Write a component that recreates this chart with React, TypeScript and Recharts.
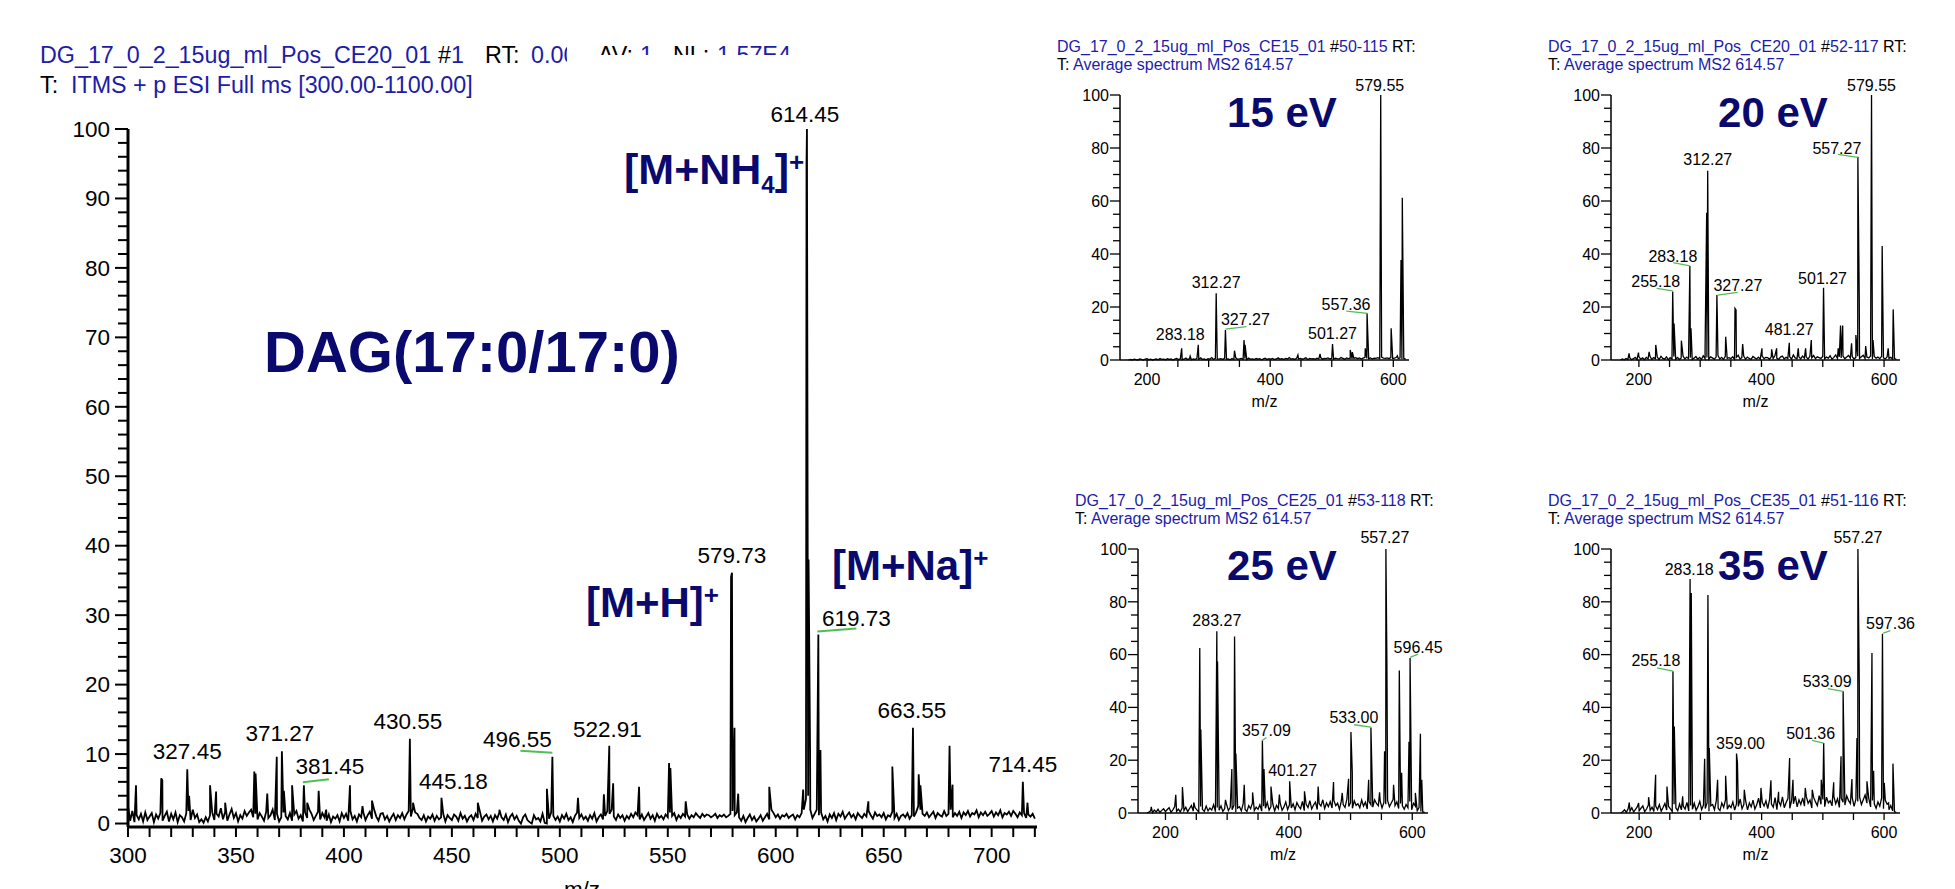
import { ComposedChart, Line, Scatter, XAxis, YAxis } from "recharts";

const FONT = "'Liberation Sans', Arial, Helvetica, sans-serif";
const NAVY = "#0a0a6e";
const BLUE = "#1c1ca8";
const GREEN = "#55bb55";

// ---------------- data ----------------
// baseline noise values are in tenths of a percent of the base peak

// main full-scan spectrum (m/z 300 - 720), noise sampled every 1 m/z
const mainNoiseStart = 300;
const mainNoiseStep = 1;
const mainNoise = [
  25, 4, 18, 2, 12, 6, 14, 3, 16, 5, 10, 15, 2, 13, 7, 15, 4, 11, 17, 3,
  14, 6, 16, 2, 12, 9, 3, 15, 18, 5, 20, 8, 13, 2, 6, 1, 9, 3, 12, 16,
  5, 14, 10, 22, 6, 17, 4, 13, 21, 8, 15, 3, 12, 7, 18, 11, 16, 20, 9, 14,
  6, 15, 10, 4, 17, 8, 12, 20, 5, 14, 3, 9, 16, 11, 6, 15, 4, 13, 18, 7,
  12, 3, 16, 8, 20, 14, 5, 11, 17, 6, 15, 9, 4, 13, 2, 10, 7, 12, 3, 15,
  8, 14, 4, 18, 6, 11, 3, 13, 9, 16, 5, 12, 17, 7, 20, 10, 4, 14, 15, 6,
  11, 3, 9, 14, 5, 12, 8, 15, 6, 13, 18, 10, 22, 16, 14, 8, 5, 12, 3, 10,
  7, 13, 4, 11, 6, 9, 14, 3, 12, 8, 5, 13, 10, 4, 15, 7, 11, 3, 9, 12,
  5, 14, 8, 17, 4, 10, 13, 6, 11, 3, 12, 7, 16, 9, 5, 13, 2, 10, 14, 6,
  11, 4, 0, 9, 13, 5, 2, 0, 12, 6, 8, 3, 14, 1, 0, 7, 16, 11, 5, 10,
  3, 12, 7, 14, 5, 9, 2, 11, 16, 8, 13, 6, 10, 4, 12, 7, 15, 3, 9, 13,
  6, 11, 18, 14, 20, 10, 5, 13, 8, 12, 4, 11, 7, 14, 9, 16, 12, 6, 13, 5,
  10, 15, 7, 12, 4, 14, 8, 11, 6, 13, 9, 16, 11, 15, 5, 12, 8, 14, 10, 13,
  7, 12, 9, 15, 11, 8, 14, 10, 13, 12, 9, 11, 14, 8, 12, 10, 13, 9, 11, 14,
  18, 12, 16, 9, 4, 11, 2, 8, 13, 5, 10, 3, 7, 12, 4, 9, 14, 6, 20, 15,
  9, 13, 7, 12, 10, 14, 8, 11, 13, 6, 12, 9, 15, 20, 35, 40, 20, 8, 14, 20,
  12, 16, 6, 11, 3, 13, 8, 15, 5, 14, 10, 17, 7, 12, 16, 9, 13, 6, 15, 11,
  8, 14, 10, 18, 12, 7, 16, 11, 13, 9, 15, 6, 12, 10, 17, 8, 14, 5, 11, 13,
  9, 15, 7, 12, 10, 16, 25, 20, 14, 11, 16, 9, 13, 17, 8, 15, 12, 10, 18, 11,
  14, 20, 9, 15, 11, 17, 8, 16, 12, 18, 10, 15, 13, 19, 9, 16, 12, 17, 11, 14,
  18, 10, 16, 12, 19, 9, 15, 13, 17, 11, 18, 14, 9, 16, 12, 15, 8, 13, 10, 14,
  7,
];
// unlabelled peaks [m/z, %]
const mainPeaks: [number, number][] = [
  [303.7, 5.5], [315.4, 6.5], [315.9, 6.2], [328.3, 4], [338, 5.5], [340.8, 4.6],
  [345, 3], [358.5, 7.5], [359.1, 7.2], [364.5, 4.3], [368.9, 9.6], [372.2, 4.7],
  [376, 5.5], [383, 3], [388.3, 4.7], [391.8, 2], [402.8, 5.5], [408.6, 2.5],
  [413, 3.3], [432, 3], [462, 3], [472, 2], [494, 5], [508.4, 3.7], [520.4, 4.2],
  [524.7, 5.8], [536.7, 5.3], [550.6, 8.7], [551.2, 8], [558.3, 3.2], [579.3, 35.5],
  [580.9, 13.8], [582.6, 4.3], [597, 5.3], [612.7, 4.9], [614.25, 95], [615.2, 38],
  [615.9, 10.6], [620.7, 10.6], [642.9, 3.2], [654, 8.2], [666.2, 7.1], [667, 5.5],
  [680.5, 11.2], [681.9, 5.6], [716.6, 3],
];
const mainLabelMz = [614.45, 579.73, 619.73, 663.55, 714.45, 327.45, 371.27, 381.45, 430.55, 445.18, 496.55, 522.91];
const mainLabelInt = [100, 36.1, 27.2, 13.8, 6.0, 7.8, 10.4, 5.5, 12.2, 3.7, 9.6, 11.2];
const mainXTicks = [
  300, 310, 320, 330, 340, 350, 360, 370, 380, 390, 400, 410, 420, 430, 440, 450, 460, 470, 480, 490,
  500, 510, 520, 530, 540, 550, 560, 570, 580, 590, 600, 610, 620, 630, 640, 650, 660, 670, 680, 690,
  700, 710, 720,
];
const mainYTicks = [
  0, 2, 4, 6, 8, 10, 12, 14, 16, 18, 20, 22, 24, 26, 28, 30, 32, 34, 36, 38, 40, 42, 44, 46, 48, 50,
  52, 54, 56, 58, 60, 62, 64, 66, 68, 70, 72, 74, 76, 78, 80, 82, 84, 86, 88, 90, 92, 94, 96, 98, 100,
];

// MS2 spectra, noise sampled every 3 m/z from 170
const ms2NoiseStart = 170;
const ms2NoiseStep = 3;
const ms2XTicks = [200, 250, 300, 350, 400, 450, 500, 550, 600];
const ms2YTicks = [0, 5, 10, 15, 20, 25, 30, 35, 40, 45, 50, 55, 60, 65, 70, 75, 80, 85, 90, 95, 100];

const noise15 = [
  0, 2, 0, 3, 1, 0, 4, 2, 0, 3,
  5, 1, 3, 0, 2, 4, 1, 6, 2, 3,
  1, 5, 2, 4, 0, 3, 6, 2, 4, 1,
  3, 7, 2, 5, 1, 4, 2, 6, 3, 8,
  2, 4, 1, 5, 3, 9, 2, 6, 4, 3,
  5, 2, 7, 3, 4, 1, 6, 2, 8, 3,
  4, 6, 2, 5, 1, 7, 3, 4, 2, 6,
  3, 5, 1, 4, 7, 2, 5, 3, 6, 2,
  4, 8, 3, 5, 2, 6, 4, 9, 3, 5,
  2, 7, 4, 6, 3, 5, 8, 2, 6, 4,
  5, 3, 7, 4, 9, 3, 6, 5, 8, 4,
  6, 3, 7, 5, 4, 9, 6, 3, 8, 5,
  7, 4, 6, 9, 5, 8, 4, 7, 10, 6,
  5, 8, 4, 7, 6, 9, 5, 11, 7, 6,
  8, 5, 9, 6, 7, 10, 5, 8, 4, 6,
  3,
];
const peaks15: [number, number][] = [
  [256.2, 4.4], [270, 1.5], [313.5, 7], [342, 3.5], [357.5, 7.5], [359.2, 5.7], [445, 1.9],
  [481, 2.3], [530, 3.8], [533.5, 3], [554.5, 4.4], [596.5, 12], [606.6, 1.6], [612.5, 37.7],
  [614.6, 61.2],
];
const labelMz15 = [579.55, 312.27, 327.27, 283.18, 557.36, 501.27];
const labelInt15 = [100, 25.2, 11.3, 5.7, 17.6, 6];

const noise20 = [
  0, 4, 1, 6, 2, 9, 1, 5, 10, 2,
  12, 3, 8, 1, 10, 4, 15, 2, 9, 5,
  11, 2, 14, 6, 3, 12, 1, 9, 4, 13,
  3, 10, 2, 8, 15, 4, 11, 5, 9, 2,
  7, 13, 3, 10, 2, 16, 5, 9, 3, 12,
  8, 3, 11, 17, 4, 10, 2, 14, 6, 9,
  5, 12, 3, 10, 18, 4, 9, 15, 3, 11,
  6, 2, 13, 8, 4, 11, 3, 16, 5, 10,
  9, 3, 12, 5, 17, 7, 2, 11, 15, 4,
  10, 6, 13, 3, 19, 8, 5, 12, 4, 15,
  7, 11, 4, 14, 8, 17, 5, 12, 9, 6,
  13, 4, 11, 7, 16, 3, 10, 19, 6, 12,
  8, 15, 5, 11, 17, 7, 13, 4, 10, 14,
  6, 12, 18, 5, 11, 8, 15, 4, 13, 7,
  11, 5, 14, 8, 4, 12, 6, 10, 3, 5,
  2,
];
const peaks20: [number, number][] = [
  [184, 2.5], [199.3, 2.8], [216.7, 3.1], [227.5, 5.7], [257.4, 13.8], [269.3, 7.3], [285, 12],
  [308, 4.4], [310.6, 55.6], [341.6, 8.8], [356.8, 19.5], [358.5, 18.9], [369.3, 6], [400.8, 4.4],
  [416.6, 4], [424.7, 4.4], [445.4, 6.5], [460, 4.4], [472, 4.4], [525.2, 4.4], [529, 13],
  [532.5, 13], [547, 6.3], [554, 9.4], [559.5, 23.5], [570, 5.3], [582, 7.5], [596.9, 43],
  [606.7, 4.4], [614.9, 19.1],
];
const labelMz20 = [579.55, 557.27, 312.27, 283.18, 255.18, 327.27, 501.27, 481.27];
const labelInt20 = [100, 76.7, 71.4, 35.5, 25.8, 24.5, 27.3, 7.5];

const noise25 = [
  0, 3, 8, 1, 11, 4, 14, 2, 10, 16,
  5, 13, 20, 3, 12, 24, 6, 15, 4, 19,
  9, 22, 5, 17, 28, 7, 20, 12, 4, 25,
  14, 6, 26, 8, 19, 11, 31, 5, 21, 10,
  27, 6, 17, 33, 9, 22, 12, 29, 4, 19,
  24, 8, 35, 13, 6, 28, 16, 38, 9, 22,
  14, 31, 7, 26, 18, 40, 11, 24, 34, 8,
  29, 17, 37, 10, 23, 42, 13, 31, 19, 35,
  12, 39, 25, 16, 44, 9, 33, 21, 47, 15,
  30, 41, 13, 36, 26, 50, 17, 38, 24, 43,
  19, 47, 28, 37, 14, 45, 32, 21, 52, 25,
  39, 18, 46, 29, 35, 20, 49, 26, 41, 15,
  43, 31, 22, 50, 36, 27, 45, 19, 40, 33,
  48, 24, 38, 52, 28, 42, 17, 36, 27, 14,
  32, 20, 44, 12, 37, 26, 9, 21, 6, 4,
  2,
];
const peaks25: [number, number][] = [
  [177, 2.3], [216.7, 6.9], [227.5, 9.8], [245.9, 4], [255.6, 62.5], [257.3, 31.6], [284.4, 57.4],
  [297.3, 5], [307.6, 16.7], [312, 66.9], [314.1, 22.5], [327.7, 10.7], [341.2, 7.8], [359.7, 16.7],
  [371, 10], [384.6, 7], [425.3, 8.2], [447.5, 10], [472.4, 11.7], [486.5, 7.6], [496.8, 13],
  [500.6, 30.7], [502.8, 15.2], [529.3, 12.6], [547, 7.8], [555.1, 23.4], [558.9, 56.8],
  [569.7, 10.7], [579, 54], [582.8, 15.2], [594.7, 27], [605, 7.6], [613.2, 30], [615.4, 12.6],
];
const labelMz25 = [557.27, 283.27, 596.45, 533.0, 357.09, 401.27];
const labelInt25 = [100, 68.8, 58.7, 32.4, 27.5, 12];

const noise35 = [
  0, 5, 12, 3, 16, 7, 20, 4, 14, 24,
  8, 18, 27, 5, 15, 30, 10, 22, 6, 26,
  13, 32, 7, 21, 36, 11, 25, 16, 5, 33,
  19, 9, 34, 12, 26, 15, 40, 8, 28, 14,
  37, 10, 24, 44, 13, 30, 17, 39, 7, 27,
  32, 12, 47, 18, 9, 38, 22, 50, 14, 29,
  20, 42, 11, 35, 25, 53, 16, 33, 45, 12,
  38, 23, 49, 15, 31, 56, 19, 41, 26, 46,
  17, 52, 34, 22, 58, 13, 44, 28, 61, 20,
  40, 55, 18, 48, 35, 64, 23, 50, 32, 57,
  26, 62, 37, 49, 19, 59, 42, 28, 66, 33,
  51, 24, 60, 38, 46, 27, 63, 35, 54, 21,
  56, 41, 30, 65, 47, 36, 58, 25, 52, 44,
  61, 32, 50, 68, 37, 55, 23, 47, 35, 18,
  42, 26, 57, 16, 48, 33, 12, 28, 8, 5,
  2,
];
const peaks35: [number, number][] = [
  [183.9, 4], [199.1, 3.8], [215.4, 6], [226.9, 14.5], [245.4, 10], [257.4, 32.8], [271, 6.3],
  [285.1, 83.3], [306.9, 20.5], [312.3, 82.6], [314.5, 24.6], [328.1, 12.6], [341.2, 14.1],
  [360.5, 19], [371.7, 8.8], [398.9, 9.5], [415.2, 12.4], [427.7, 8], [445.7, 20.8], [451.2, 12.6],
  [471.3, 9.5], [482.7, 8.8], [497.4, 12.6], [517.7, 11.6], [529.7, 21.5], [547.5, 12.9],
  [555.7, 28.4], [559.5, 49], [572, 12], [580.2, 60.6], [582.9, 16], [600.3, 11.4], [607.4, 3.8],
  [614.5, 18.7],
];
const labelMz35 = [557.27, 283.18, 255.18, 597.36, 533.09, 501.36, 359.0];
const labelInt35 = [100, 88.6, 53.7, 67.9, 46.1, 26.5, 22.5];

// ---------------- layout ----------------
type LabelPos = { dx: number; dy: number; lead?: [number, number, number, number] };

const mainLabelPos: Record<string, LabelPos> = {
  "614.45": { dx: -2, dy: -7 },
  "619.73": { dx: 38, dy: -9, lead: [-1, -3, 38, -6] },
  "663.55": { dx: -1, dy: -10 },
  "371.27": { dx: -2, dy: -10 },
  "381.45": { dx: 26, dy: -11, lead: [-1, -3, 25, -6] },
  "430.55": { dx: -2, dy: -10 },
  "445.18": { dx: 12, dy: -9 },
  "496.55": { dx: -35, dy: -10, lead: [-32, -6, 0, -4] },
  "522.91": { dx: -2, dy: -9 },
};
const pos15: Record<string, LabelPos> = {
  "579.55": { dx: -1, dy: -4 },
  "327.27": { dx: 20, dy: -5, lead: [0, -1, 21, -3.5] },
  "283.18": { dx: -18, dy: -5 },
  "557.36": { dx: -21, dy: -3, lead: [-20.7, -2.3, 0.6, 0] },
};
const pos20: Record<string, LabelPos> = {
  "579.55": { dx: 0, dy: -4 },
  "557.27": { dx: -21, dy: -3, lead: [-20, -2.3, 0, 0.7] },
  "312.27": { dx: 0, dy: -6 },
  "283.18": { dx: -17, dy: -4, lead: [-16.7, -3.3, 0, 0] },
  "255.18": { dx: -17, dy: -5, lead: [-16, -3.3, 0, -0.7] },
  "327.27": { dx: 21, dy: -4, lead: [0.7, 0, 20.7, -2.7] },
  "501.27": { dx: -1, dy: -4 },
  "481.27": { dx: -22, dy: -5 },
};
const pos25: Record<string, LabelPos> = {
  "557.27": { dx: -1, dy: -6 },
  "596.45": { dx: 8, dy: -5, lead: [0, -0.7, 8, -4] },
  "533.00": { dx: -17, dy: -4, lead: [-16.7, -2.7, 0, -0.3] },
  "357.09": { dx: 4, dy: -4, lead: [0, 0, 4, -3] },
  "401.27": { dx: 3, dy: -5 },
};
const pos35: Record<string, LabelPos> = {
  "557.27": { dx: 0, dy: -6 },
  "283.18": { dx: -1, dy: -4 },
  "255.18": { dx: -17, dy: -5, lead: [-16, -3.3, 0, 0] },
  "597.36": { dx: 8, dy: -5, lead: [0.7, -0.7, 8, -3] },
  "533.09": { dx: -16, dy: -4, lead: [-15.3, -2.7, 0, 0] },
  "501.36": { dx: -13, dy: -4, lead: [-11.7, -2.7, 0, 0] },
  "359.00": { dx: 4, dy: -5 },
};

type Pt = { mz: number; y: number };

function buildSpectrum(start: number, step: number, noise: number[], peaks: [number, number][], lmz: number[], lint: number[]): Pt[] {
  const pts: Pt[] = noise.map((v, i) => ({ mz: start + i * step, y: v / 10 }));
  peaks.forEach(([mz, y]) => pts.push({ mz, y }));
  lmz.forEach((mz, i) => pts.push({ mz, y: lint[i] }));
  return pts.sort((a, b) => a.mz - b.mz);
}

function buildLabels(lmz: number[], lint: number[]): Pt[] {
  return lmz.map((mz, i) => ({ mz, y: lint[i] }));
}

interface Box { l: number; t: number; r: number; b: number }

interface SpectrumProps {
  plot: Box;
  pad: Box;
  xDomain: [number, number];
  yDomain: [number, number];
  xTicks: number[];
  yTicks: number[];
  xEvery: number;
  yEvery: number;
  big?: boolean;
  data: Pt[];
  labels: Pt[];
  labelPos: Record<string, LabelPos>;
}

function Spectrum({ plot, pad, xDomain, yDomain, xTicks, yTicks, xEvery, yEvery, big = false, data, labels, labelPos }: SpectrumProps) {
  const width = plot.r - plot.l + pad.l + pad.r;
  const height = plot.b - plot.t + pad.t + pad.b;
  const fs = big ? 22.5 : 16;
  const tickW = big ? 2 : 1.3;

  const yTick = (p: any) => {
    const v = p.payload.value;
    const major = v % yEvery === 0;
    const len = major ? (big ? 13 : 10) : big ? 10 : 7;
    return (
      <g>
        <line x1={p.x - len} x2={p.x} y1={p.y} y2={p.y} stroke="#000" strokeWidth={tickW} />
        {major && (
          <text x={p.x - (big ? 18 : 11)} y={p.y + (big ? 7.7 : 5.7)} textAnchor="end" fontSize={fs} fontFamily={FONT} fill="#000">
            {v}
          </text>
        )}
      </g>
    );
  };

  const xTick = (p: any) => {
    const v = p.payload.value;
    const major = v % xEvery === 0;
    return (
      <g>
        <line x1={p.x} x2={p.x} y1={p.y} y2={p.y + (big ? 10 : 7)} stroke="#000" strokeWidth={tickW} />
        {major && (
          <text x={p.x} y={p.y + (big ? 36 : 25)} textAnchor="middle" fontSize={fs} fontFamily={FONT} fill="#000">
            {v}
          </text>
        )}
      </g>
    );
  };

  const labelShape = (p: any) => {
    const { cx, cy } = p;
    const entry = p.payload ?? p;
    const text = Number(entry.mz).toFixed(2);
    const l = labelPos[text] ?? { dx: 0, dy: big ? -10 : -5 };
    return (
      <g>
        {l.lead && (
          <line
            x1={cx + l.lead[0]}
            y1={cy + l.lead[1]}
            x2={cx + l.lead[2]}
            y2={cy + l.lead[3]}
            stroke={GREEN}
            strokeWidth={big ? 2 : 1.3}
          />
        )}
        <text x={cx + l.dx} y={cy + l.dy} textAnchor="middle" fontSize={fs} fontFamily={FONT} fill="#000">
          {text}
        </text>
      </g>
    );
  };

  return (
    <div style={{ position: "absolute", left: plot.l - pad.l, top: plot.t - pad.t }}>
      <ComposedChart width={width} height={height} margin={{ top: pad.t, right: pad.r, bottom: 0, left: 0 }}>
        <XAxis
          type="number"
          dataKey="mz"
          domain={xDomain}
          ticks={xTicks}
          interval={0}
          height={pad.b}
          tick={xTick}
          tickLine={false}
          tickSize={0}
          tickMargin={0}
          axisLine={{ stroke: "#000", strokeWidth: big ? 3 : 1.5 }}
        />
        <YAxis
          type="number"
          domain={yDomain}
          ticks={yTicks}
          interval={0}
          width={pad.l}
          tick={yTick}
          tickLine={false}
          tickSize={0}
          tickMargin={0}
          axisLine={{ stroke: "#000", strokeWidth: big ? 3 : 1.5 }}
        />
        <Line
          data={data}
          dataKey="y"
          type="linear"
          stroke="#000"
          strokeWidth={big ? 1.8 : 1.3}
          dot={false}
          activeDot={false}
          isAnimationActive={false}
        />
        <Scatter data={labels} dataKey="y" shape={labelShape} isAnimationActive={false} />
      </ComposedChart>
    </div>
  );
}

const smallPad: Box = { l: 60, t: 30, r: 30, b: 30 };
const plotMain: Box = { l: 128, t: 129, r: 1037, b: 827 };
const plot15: Box = { l: 1120, t: 95, r: 1409, b: 360 };
const plot20: Box = { l: 1611, t: 95, r: 1900, b: 360 };
const plot25: Box = { l: 1138, t: 549, r: 1428, b: 813 };
const plot35: Box = { l: 1611, t: 549, r: 1900, b: 813 };

function SmallHeader({ x, y, run, scan }: { x: number; y: number; run: string; scan: string }) {
  return (
    <g fontFamily={FONT} fontSize={16} style={{ whiteSpace: "pre" }}>
      <text x={x} y={y}>
        <tspan fill={BLUE}>{run}</tspan>
        <tspan fill="#000"> #</tspan>
        <tspan fill={BLUE}>{scan}</tspan>
        <tspan fill="#000">{"   RT:"}</tspan>
      </text>
      <text x={x} y={y + 18}>
        <tspan fill="#000">{"T: "}</tspan>
        <tspan fill={BLUE}>Average spectrum MS2 614.57</tspan>
      </text>
    </g>
  );
}

function Adduct({ x, y, main, sub, size = 42 }: { x: number; y: number; main: string; sub?: string; size?: number }) {
  return (
    <text x={x} y={y} fontFamily={FONT} fontWeight="bold" fontSize={size} fill={NAVY}>
      <tspan>{main}</tspan>
      {sub && (
        <tspan fontSize={24} dy={9}>
          {sub}
        </tspan>
      )}
      <tspan dy={sub ? -9 : 0}>]</tspan>
      <tspan fontSize={26} dy={-13}>
        +
      </tspan>
    </text>
  );
}

function Overlay() {
  return (
    <svg width={1955} height={889} style={{ position: "absolute", left: 0, top: 0, pointerEvents: "none" }}>
      {/* main header */}
      <g fontFamily={FONT} fontSize={23.3} style={{ whiteSpace: "pre" }}>
        <text y={63}>
          <tspan x={40} fill={BLUE}>DG_17_0_2_15ug_ml_Pos_CE20_01</tspan>
          <tspan x={438} fill="#000">#</tspan>
          <tspan fill={BLUE}>1</tspan>
          <tspan x={485} fill="#000">RT:</tspan>
          <tspan x={531} fill={BLUE}>0.00</tspan>
          <tspan x={598} fill="#000">AV:</tspan>
          <tspan x={640} fill={BLUE}>1</tspan>
          <tspan x={673} fill="#000">NL:</tspan>
          <tspan x={717} fill={BLUE}>1.57E4</tspan>
        </text>
        <text y={93}>
          <tspan x={40} fill="#000">T:</tspan>
          <tspan x={71} fill={BLUE}>ITMS + p ESI Full ms [300.00-1100.00]</tspan>
        </text>
      </g>
      <rect x={567} y={42} width={30} height={30} fill="#fff" />
      <rect x={590} y={55} width={300} height={20} fill="#fff" />

      <text x={264} y={372} fontFamily={FONT} fontWeight="bold" fontSize={58} fill={NAVY}>
        DAG(17:0/17:0)
      </text>
      <Adduct x={624} y={184} main="[M+NH" sub="4" size={43} />
      <Adduct x={586} y={617} main="[M+H" />
      <Adduct x={832} y={580} main="[M+Na" />
      <text x={582} y={897} textAnchor="middle" fontFamily={FONT} fontSize={22.5} fill="#000">
        m/z
      </text>

      {/* MS2 panels */}
      <SmallHeader x={1057} y={52} run="DG_17_0_2_15ug_ml_Pos_CE15_01" scan="50-115" />
      <SmallHeader x={1548} y={52} run="DG_17_0_2_15ug_ml_Pos_CE20_01" scan="52-117" />
      <SmallHeader x={1075} y={506} run="DG_17_0_2_15ug_ml_Pos_CE25_01" scan="53-118" />
      <SmallHeader x={1548} y={506} run="DG_17_0_2_15ug_ml_Pos_CE35_01" scan="51-116" />

      <g fontFamily={FONT} fontWeight="bold" fontSize={42} fill={NAVY} textAnchor="middle">
        <text x={1282} y={127}>15 eV</text>
        <text x={1773} y={127}>20 eV</text>
        <text x={1282} y={580}>25 eV</text>
        <text x={1773} y={580}>35 eV</text>
      </g>
      <g fontFamily={FONT} fontSize={16} fill="#000" textAnchor="middle">
        <text x={(plot15.l + plot15.r) / 2} y={plot15.b + 47}>m/z</text>
        <text x={(plot20.l + plot20.r) / 2} y={plot20.b + 47}>m/z</text>
        <text x={(plot25.l + plot25.r) / 2} y={plot25.b + 47}>m/z</text>
        <text x={(plot35.l + plot35.r) / 2} y={plot35.b + 47}>m/z</text>
      </g>
    </svg>
  );
}

export default function App() {
  const main = buildSpectrum(mainNoiseStart, mainNoiseStep, mainNoise, mainPeaks, mainLabelMz, mainLabelInt);
  const s15 = buildSpectrum(ms2NoiseStart, ms2NoiseStep, noise15, peaks15, labelMz15, labelInt15);
  const s20 = buildSpectrum(ms2NoiseStart, ms2NoiseStep, noise20, peaks20, labelMz20, labelInt20);
  const s25 = buildSpectrum(ms2NoiseStart, ms2NoiseStep, noise25, peaks25, labelMz25, labelInt25);
  const s35 = buildSpectrum(ms2NoiseStart, ms2NoiseStep, noise35, peaks35, labelMz35, labelInt35);

  const small = {
    pad: smallPad,
    yDomain: [0, 100] as [number, number],
    xTicks: ms2XTicks,
    yTicks: ms2YTicks,
    xEvery: 200,
    yEvery: 20,
  };

  return (
    <div style={{ position: "absolute", left: 0, top: 0, width: 1955, height: 889, background: "#fff", overflow: "hidden" }}>
      <Spectrum
        plot={plotMain}
        pad={{ l: 128, t: 29, r: 25, b: 62 }}
        xDomain={[300, 721]}
        yDomain={[-0.5, 100]}
        xTicks={mainXTicks}
        yTicks={mainYTicks}
        xEvery={50}
        yEvery={10}
        big
        data={main}
        labels={buildLabels(mainLabelMz, mainLabelInt)}
        labelPos={mainLabelPos}
      />
      <Spectrum {...small} plot={plot15} xDomain={[156, 625.5]} data={s15} labels={buildLabels(labelMz15, labelInt15)} labelPos={pos15} />
      <Spectrum {...small} plot={plot20} xDomain={[154.5, 626]} data={s20} labels={buildLabels(labelMz20, labelInt20)} labelPos={pos20} />
      <Spectrum {...small} plot={plot25} xDomain={[155.5, 625.5]} data={s25} labels={buildLabels(labelMz25, labelInt25)} labelPos={pos25} />
      <Spectrum {...small} plot={plot35} xDomain={[154, 626]} data={s35} labels={buildLabels(labelMz35, labelInt35)} labelPos={pos35} />
      <Overlay />
    </div>
  );
}
